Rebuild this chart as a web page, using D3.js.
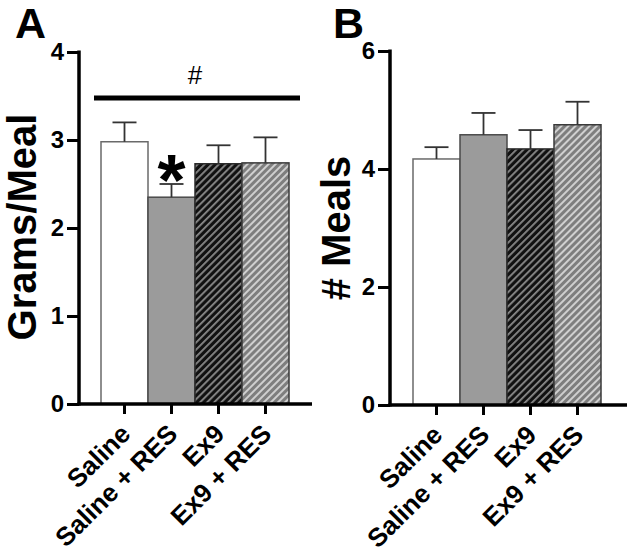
<!DOCTYPE html>
<html>
<head>
<meta charset="utf-8">
<script src="https://cdn.jsdelivr.net/npm/d3@7"></script>
<style>
  html, body { margin: 0; padding: 0; background: #fff; }
  svg { display: block; }
  text { font-family: "Liberation Sans", Arial, sans-serif; }
</style>
</head>
<body>
<svg id="chart" width="632" height="547"></svg>
<script>
// ---- data ----
const categories = ["Saline", "Saline + RES", "Ex9", "Ex9 + RES"];
const gramsPerMeal = [2.98, 2.35, 2.73, 2.74];
const gramsPerMealErr = [0.22, 0.15, 0.21, 0.29];
const meals = [4.17, 4.58, 4.34, 4.75];
const mealsErr = [0.2, 0.37, 0.32, 0.39];
const ticksA = [0, 1, 2, 3, 4];
const ticksB = [0, 2, 4, 6];

const svg = d3.select("#chart");

// patterns
const defs = svg.append("defs");
function stripe(id, bg, fg, w) {
  const p = defs.append("pattern")
    .attr("id", id).attr("patternUnits", "userSpaceOnUse")
    .attr("width", 5).attr("height", 5)
    .attr("patternTransform", "rotate(45)");
  p.append("rect").attr("width", 5).attr("height", 5).attr("fill", bg);
  p.append("rect").attr("x", 0).attr("width", w).attr("height", 5).attr("fill", fg);
}
stripe("hatchDark", "#111111", "#8a8a8a", 1.8);
stripe("hatchGray", "#7e7e7e", "#cfcfcf", 2.0);

const fills = ["#ffffff", "#9b9b9b", "url(#hatchDark)", "url(#hatchGray)"];
const strokes = ["#6a6a6a", "#4a4a4a", "#2a2a2a", "#3a3a3a"];

function panel(opts) {
  const g = svg.append("g");
  const x = d3.scaleBand().domain(categories).range(opts.xRange).padding(0);
  const y = d3.scaleLinear().domain(opts.yDomain).range([opts.y0, opts.yTop]);

  // bars
  g.selectAll("rect.bar").data(opts.values).join("rect")
    .attr("class", "bar")
    .attr("x", (d, i) => x(categories[i]))
    .attr("width", x.bandwidth())
    .attr("y", d => y(d))
    .attr("height", d => y(0) - y(d))
    .attr("fill", (d, i) => fills[i])
    .attr("stroke", (d, i) => strokes[i])
    .attr("stroke-width", 1.5);

  // error bars (upper only)
  const eg = g.selectAll("g.err").data(opts.values).join("g").attr("class", "err");
  eg.append("line")
    .attr("x1", (d, i) => x(categories[i]) + x.bandwidth() / 2)
    .attr("x2", (d, i) => x(categories[i]) + x.bandwidth() / 2)
    .attr("y1", d => y(d))
    .attr("y2", (d, i) => y(d + opts.errs[i]))
    .attr("stroke", "#333").attr("stroke-width", 1.8);
  eg.append("line")
    .attr("x1", (d, i) => x(categories[i]) + x.bandwidth() / 2 - 12)
    .attr("x2", (d, i) => x(categories[i]) + x.bandwidth() / 2 + 12)
    .attr("y1", (d, i) => y(d + opts.errs[i]))
    .attr("y2", (d, i) => y(d + opts.errs[i]))
    .attr("stroke", "#333").attr("stroke-width", 1.8);

  // y axis
  const yAxis = d3.axisLeft(y).tickValues(opts.ticks).tickSize(12).tickPadding(3).tickFormat(d3.format("d"));
  const ya = g.append("g").attr("transform", `translate(${opts.axisX},0)`).call(yAxis);
  ya.select(".domain").attr("d", `M0,${opts.yTop - 1.5}V${opts.y0 + 1.5}`)
    .attr("stroke", "#000").attr("stroke-width", 3.5);
  ya.selectAll(".tick line").attr("stroke", "#000").attr("stroke-width", 3);
  ya.selectAll(".tick text").attr("font-size", 24).attr("font-weight", "bold").attr("fill", "#000")
    .attr("font-family", "Liberation Sans, Arial, sans-serif");

  // x axis
  const xAxis = d3.axisBottom(x).tickSize(10).tickFormat("");
  const xa = g.append("g").attr("transform", `translate(0,${opts.y0})`).call(xAxis);
  xa.select(".domain").attr("d", `M${opts.axisX - 1.5},0H${opts.xEnd}`)
    .attr("stroke", "#000").attr("stroke-width", 3.5);
  xa.selectAll(".tick line").attr("stroke", "#000").attr("stroke-width", 3);

  // rotated category labels
  g.selectAll("text.cat").data(categories).join("text")
    .attr("class", "cat")
    .attr("transform", d => `translate(${x(d) + x.bandwidth() / 2 + 1},${opts.y0 + 25}) rotate(-45)`)
    .attr("text-anchor", "end")
    .attr("dy", "0.35em")
    .attr("font-size", 26).attr("font-weight", "bold").attr("fill", "#000")
    .text(d => d);

  // y title
  g.append("text")
    .attr("transform", `translate(${opts.titleX},${opts.titleY}) rotate(-90)`)
    .attr("text-anchor", "middle")
    .attr("font-size", 40).attr("font-weight", "bold").attr("fill", "#000")
    .text(opts.title);

  // panel letter
  g.append("text")
    .attr("x", opts.letterX).attr("y", 38)
    .attr("font-size", 43).attr("font-weight", "bold").attr("fill", "#000")
    .text(opts.letter);

  return { g, x, y };
}

const A = panel({
  xRange: [101, 289], yDomain: [0, 4], y0: 404, yTop: 52, axisX: 79, xEnd: 312,
  values: gramsPerMeal, errs: gramsPerMealErr, ticks: ticksA,
  title: "Grams/Meal", titleX: 36, titleY: 227, letter: "A", letterX: 15
});
const B = panel({
  xRange: [413, 601], yDomain: [0, 6], y0: 405, yTop: 51, axisX: 390, xEnd: 627,
  values: meals, errs: mealsErr, ticks: ticksB,
  title: "# Meals", titleX: 350, titleY: 228, letter: "B", letterX: 333
});

// significance annotations (panel A)
A.g.append("line")
  .attr("x1", A.x(categories[0]) - 7).attr("x2", A.x(categories[3]) + A.x.bandwidth() + 11)
  .attr("y1", 98).attr("y2", 98)
  .attr("stroke", "#000").attr("stroke-width", 5);
A.g.append("text")
  .attr("x", A.x(categories[0]) + A.x.bandwidth() * 2).attr("y", 84)
  .attr("text-anchor", "middle").attr("font-size", 26).attr("fill", "#000")
  .text("#");
A.g.append("text")
  .attr("x", A.x(categories[1]) + A.x.bandwidth() / 2).attr("y", 205)
  .attr("text-anchor", "middle").attr("font-size", 72).attr("font-weight", "bold").attr("fill", "#000")
  .text("*");
</script>
</body>
</html>
